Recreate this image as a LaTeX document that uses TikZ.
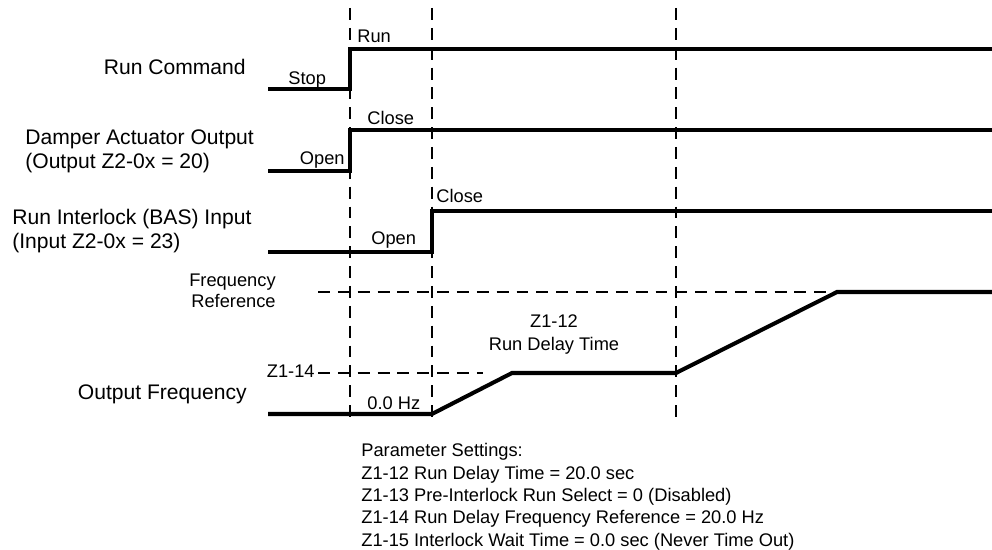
\documentclass[tikz,border=0pt]{standalone}
\usepackage{fontspec}
\setmainfont{Liberation Sans}
\usetikzlibrary{positioning}

\begin{document}
\begin{tikzpicture}[
    x=0.02cm, y=-0.02cm,
    every node/.style={inner sep=0pt, font=\fontsize{10.4}{12.6}\selectfont},
    sig/.style={line width=2.3pt},
    grd/.style={line width=0.9pt, dash pattern=on 6.8pt off 4.5pt},
    big/.style={font=\fontsize{12}{14}\selectfont},
    bw/.style={anchor=base west},
    be/.style={anchor=base east},
  ]
  \useasboundingbox (0,0) rectangle (992,550);
  % time marks
  \coordinate (tA) at (350,0);
  \coordinate (tB) at (432,0);
  \coordinate (tC) at (676,0);
  \foreach \t in {tA,tB,tC}
    \draw[grd] (\t |- 0,8) -- (\t |- 0,424);
  % levels
  \draw[grd] (318,292) -- (837,292);
  \draw[grd] (318,373) -- (483,373);

  % signal names
  \node[big, be] (rcmd) at (246,75) {Run Command};
  \node[big, bw] (dmp1) at (25,145) {Damper Actuator Output};
  \node[big, bw] (dmp2) at (25,169) {(Output Z2-0x = 20)};
  \node[big, bw] (ilk1) at (12,225) {Run Interlock (BAS) Input};
  \node[big, bw] (ilk2) at (12,249) {(Input Z2-0x = 23)};
  \node[be] (fref1) at (276,287) {Frequency};
  \node[be] (fref2) at (276,308) {Reference};
  \node[be] (z14) at (315,378) {Z1-14};
  \node[big, be] (ofrq) at (247,400) {Output Frequency};

  % run command
  \draw[sig] (268,89) -- (350,89) -- (350,49) -- (992,49);
  \node[bw] (stop) at (288,85) {Stop};
  \node[bw] (run) at (357,43) {Run};
  % damper
  \draw[sig] (268,171) -- (350,171) -- (350,130) -- (992,130);
  \node[be] (dopen) at (345,165) {Open};
  \node[bw] (dclose) at (367,125) {Close};
  % interlock
  \draw[sig] (268,252) -- (432,252) -- (432,211) -- (992,211);
  \node[bw] (iopen) at (371,245) {Open};
  \node[bw] (iclose) at (436,203) {Close};
  % output frequency
  \draw[sig] (268,414) -- (432,414) -- (512,373) -- (676,373) -- (837,292) -- (992,292);
  \node[bw] (zero) at (367,410) {0.0 Hz};
  \node[anchor=base] (z12a) at (554,328) {Z1-12};
  \node[anchor=base] (z12b) at (554,351) {Run Delay Time};

  % parameters
  \foreach \ln [count=\i from 0] in {Parameter Settings:,
      Z1-12 Run Delay Time = 20.0 sec,
      Z1-13 Pre-Interlock Run Select = 0 (Disabled),
      Z1-14 Run Delay Frequency Reference = 20.0 Hz,
      Z1-15 Interlock Wait Time = 0.0 sec (Never Time Out)}
    \node[bw] (par\i) at (361,{457+22.3*\i}) {\ln};
\end{tikzpicture}
\end{document}
